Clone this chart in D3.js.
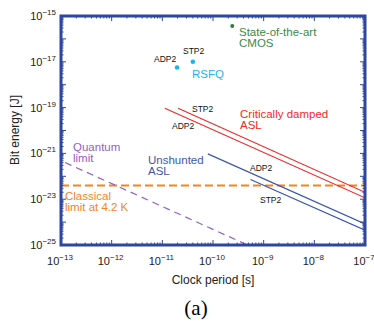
<html>
<head>
  <style>
    body { margin: 0; padding: 0; background: white; }
    svg { display: block; }
    text { font-family: Arial, "Liberation Sans", sans-serif; }
  </style>
</head>
<body>
  <div id="chart"></div>
  <script src="https://cdnjs.cloudflare.com/ajax/libs/d3/7.8.5/d3.min.js"></script>
  <script>
    // data (clock period [s], bit energy [J])
    var xTickExps = [-13, -12, -11, -10, -9, -8, -7];
    var yTickExps = [-15, -17, -19, -21, -23, -25];
    var cmosPoint = [2.4e-10, 3.7e-16];
    var rsfqPoints = [
      { name: 'ADP2', t: 1.95e-11, e: 5.6e-18 },
      { name: 'STP2', t: 4.0e-11, e: 1.0e-17 }
    ];
    var critDampedLines = [
      { name: 'ADP2', pts: [[1.12e-11, 9.3e-20], [1e-7, 1.15e-23]] },
      { name: 'STP2', pts: [[2.05e-11, 9.3e-20], [1e-7, 2.0e-23]] }
    ];
    var unshuntedLines = [
      { name: 'ADP2', pts: [[7.9e-11, 9.5e-22], [1e-7, 8.3e-25]] },
      { name: 'STP2', pts: [[5.5e-10, 7.2e-23], [1e-7, 4.4e-25]] }
    ];
    var quantumLimit = [[1.2e-13, 4.0e-22], [4.8e-10, 1.0e-25]];
    var classicalLimit = 4.0e-23;

    var W = 374, H = 329;
    var pLeft = 61, pRight = 365, pTop = 16, pBottom = 245;
    var frameCol = '#2d47a0';

    var svg = d3.select('#chart').append('svg')
      .attr('width', W)
      .attr('height', H);

    var x = d3.scaleLog().domain([1e-13, 1e-7]).range([pLeft, pRight]);
    var y = d3.scaleLog().domain([1e-25, 1e-15]).range([pBottom, pTop]);

    svg.append('clipPath').attr('id', 'clip')
      .append('rect').attr('x', pLeft).attr('y', pTop)
      .attr('width', pRight - pLeft).attr('height', pBottom - pTop);

    var plot = svg.append('g').attr('clip-path', 'url(#clip)');

    var line = d3.line().x(function(d) { return x(d[0]); }).y(function(d) { return y(d[1]); });

    // classical limit
    plot.append('line')
      .attr('x1', pLeft).attr('x2', pRight)
      .attr('y1', y(classicalLimit)).attr('y2', y(classicalLimit))
      .attr('stroke', '#f3841f').attr('stroke-width', 2)
      .attr('stroke-dasharray', '8,4');

    // quantum limit
    plot.append('path').datum(quantumLimit)
      .attr('d', line).attr('fill', 'none')
      .attr('stroke', '#9460c4').attr('stroke-width', 1.2)
      .attr('stroke-dasharray', '7,5');

    plot.selectAll('.crit').data(critDampedLines).enter().append('path')
      .attr('d', function(d) { return line(d.pts); })
      .attr('fill', 'none').attr('stroke', '#f02828').attr('stroke-width', 1.2);

    plot.selectAll('.unsh').data(unshuntedLines).enter().append('path')
      .attr('d', function(d) { return line(d.pts); })
      .attr('fill', 'none').attr('stroke', '#3e56ac').attr('stroke-width', 1.2);

    plot.selectAll('.rsfq').data(rsfqPoints).enter().append('circle')
      .attr('cx', function(d) { return x(d.t); })
      .attr('cy', function(d) { return y(d.e); })
      .attr('r', 2.3).attr('fill', '#1db4ec');

    plot.append('circle')
      .attr('cx', x(cmosPoint[0])).attr('cy', y(cmosPoint[1]))
      .attr('r', 2).attr('fill', '#2e7d3a');

    // ticks, all four sides
    var ticks = svg.append('g').attr('stroke', frameCol).attr('stroke-width', 1);
    var minorX = x.ticks(60), minorY = y.ticks(100);
    function isMajor(v) { return Math.abs(Math.log10(v) - Math.round(Math.log10(v))) < 1e-6; }
    minorX.forEach(function(v) {
      var len = isMajor(v) ? 5 : 2.5;
      ticks.append('line').attr('x1', x(v)).attr('x2', x(v)).attr('y1', pBottom).attr('y2', pBottom - len);
      ticks.append('line').attr('x1', x(v)).attr('x2', x(v)).attr('y1', pTop).attr('y2', pTop + len);
    });
    minorY.forEach(function(v) {
      var len = isMajor(v) ? 5 : 2.5;
      ticks.append('line').attr('y1', y(v)).attr('y2', y(v)).attr('x1', pLeft).attr('x2', pLeft + len);
      ticks.append('line').attr('y1', y(v)).attr('y2', y(v)).attr('x1', pRight).attr('x2', pRight - len);
    });

    svg.append('rect')
      .attr('x', pLeft).attr('y', pTop)
      .attr('width', pRight - pLeft).attr('height', pBottom - pTop)
      .attr('fill', 'none').attr('stroke', frameCol).attr('stroke-width', 3);

    // tick labels
    function powLabel(sel, exp) {
      sel.append('tspan').text('10');
      sel.append('tspan').attr('dy', -5).attr('font-size', 8).text('\u2212' + Math.abs(exp));
    }
    xTickExps.forEach(function(e) {
      var t = svg.append('text')
        .attr('x', x(Math.pow(10, e)) - 1).attr('y', 265)
        .attr('text-anchor', 'middle').attr('font-size', 11).attr('fill', '#222');
      powLabel(t, e);
    });
    yTickExps.forEach(function(e) {
      var t = svg.append('text')
        .attr('x', 56).attr('y', y(Math.pow(10, e)) + 4)
        .attr('text-anchor', 'end').attr('font-size', 11).attr('fill', '#222');
      powLabel(t, e);
    });

    // axis titles
    svg.append('text').attr('x', 213).attr('y', 284)
      .attr('text-anchor', 'middle').attr('font-size', 12).attr('fill', '#222')
      .text('Clock period [s]');
    svg.append('text')
      .attr('transform', 'translate(19,130) rotate(-90)')
      .attr('text-anchor', 'middle').attr('font-size', 12).attr('fill', '#222')
      .text('Bit energy [J]');
    svg.append('text').attr('x', 196).attr('y', 315)
      .attr('text-anchor', 'middle').attr('font-size', 21)
      .style('font-family', '"Liberation Serif", "Times New Roman", serif')
      .text('(a)');

    // annotations
    function label(lines, px, py, col, size, lh) {
      var t = svg.append('text').attr('font-size', size).attr('fill', col);
      lines.forEach(function(s, i) {
        t.append('tspan').attr('x', px).attr('y', py + i * lh).text(s);
      });
    }
    label(['State-of-the-art', 'CMOS'], 239, 36, '#3d8a46', 11.5, 11);
    label(['RSFQ'], 192, 78, '#1db4ec', 11.5, 11);
    label(['Critically damped', 'ASL'], 240, 118, '#f02828', 11.5, 11);
    label(['Unshunted', 'ASL'], 148, 164, '#3e56ac', 11.5, 11);
    label(['Quantum', 'limit'], 73, 151, '#9460c4', 11.5, 11);
    label(['Classical', 'limit at 4.2 K'], 65, 200, '#f3841f', 11.5, 11);

    var small = [
      ['ADP2', 154, 62], ['STP2', 183, 54],
      ['STP2', 192, 112], ['ADP2', 172, 129],
      ['ADP2', 250, 171], ['STP2', 260, 203]
    ];
    small.forEach(function(s) { label([s[0]], s[1], s[2], '#111', 8.5, 0); });
  </script>
</body>
</html>
